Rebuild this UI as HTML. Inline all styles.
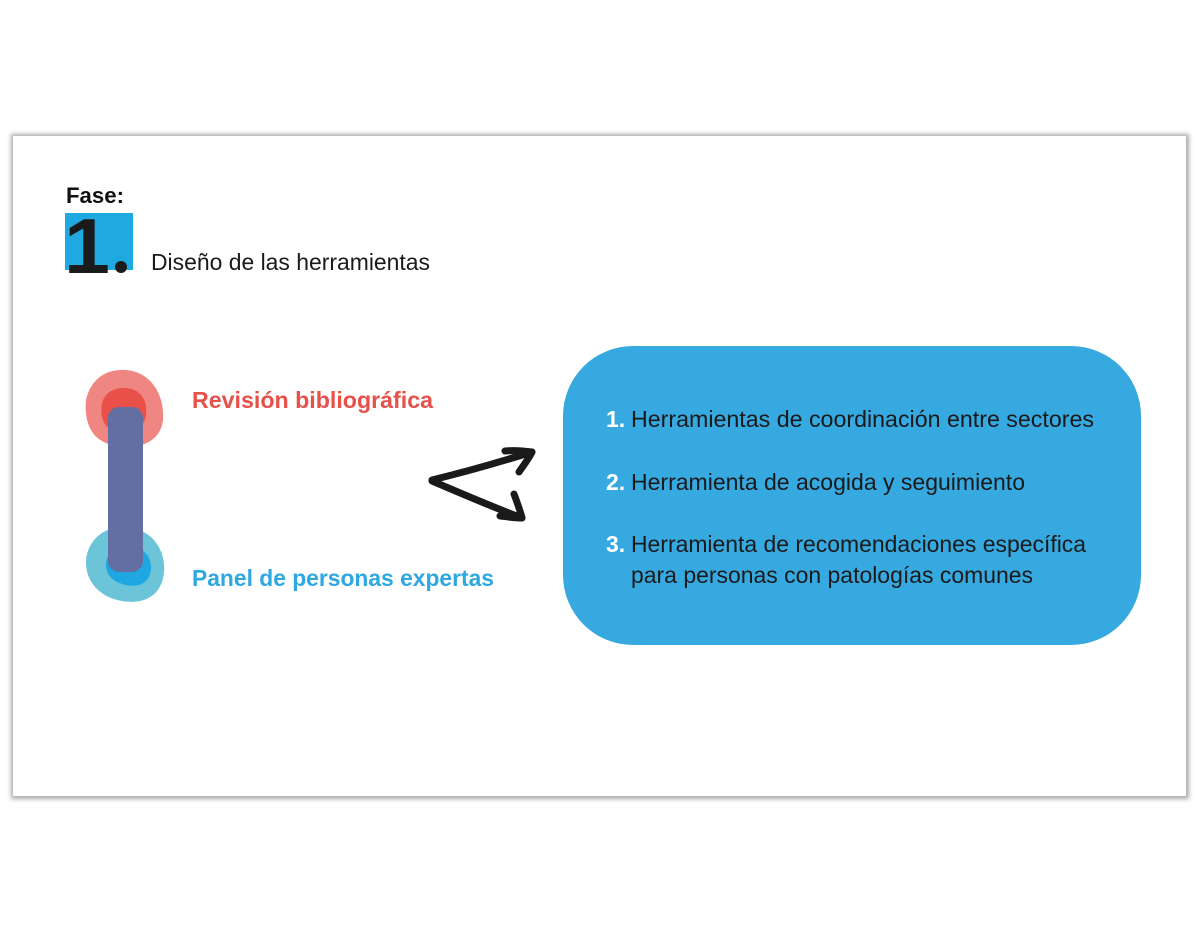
<!DOCTYPE html>
<html><head><meta charset="utf-8"><style>
html,body{margin:0;padding:0;background:#fff;width:1200px;height:930px;overflow:hidden}
</style></head><body>
<svg width="1200" height="930" viewBox="0 0 1200 930" xmlns="http://www.w3.org/2000/svg" font-family="Liberation Sans, sans-serif">
<defs>
<filter id="sh" x="-5%" y="-5%" width="110%" height="110%"><feGaussianBlur stdDeviation="2"/></filter>
</defs>
<rect x="11" y="134" width="1178" height="665" fill="#aaa" filter="url(#sh)"/>
<rect x="13" y="136" width="1173" height="660" fill="#fff"/>

<text x="66" y="203" font-size="22" font-weight="bold" fill="#111" textLength="58" lengthAdjust="spacingAndGlyphs">Fase:</text>
<rect x="65" y="213" width="68" height="57" fill="#1ea9e1"/>
<text x="64" y="273" font-size="78" fill="#1a1a1a" font-weight="bold" textLength="46" lengthAdjust="spacingAndGlyphs">1</text>
<circle cx="121" cy="267" r="6" fill="#1a1a1a"/>
<text x="151" y="270" font-size="23" fill="#1a1a1a" textLength="279" lengthAdjust="spacingAndGlyphs">Diseño de las herramientas</text>

<path d="M120 370 C150 368 165 395 163 420 C160 445 135 450 112 445 C90 440 84 420 86 400 C90 382 102 371 120 370 Z" fill="#f08681"/>
<path d="M122 388 C140 387 148 400 146 415 C144 430 130 436 116 432 C102 428 100 414 102 403 C105 393 112 389 122 388 Z" fill="#e9504a"/>
<path d="M125 527 C150 528 166 548 164 572 C162 595 145 605 122 601 C98 597 85 580 86 560 C88 540 104 526 125 527 Z" fill="#6cc4d8"/>
<path d="M128 546 C142 546 152 556 151 569 C150 582 140 588 126 585 C112 582 105 574 106 562 C108 551 116 546 128 546 Z" fill="#1fa7e1"/>
<rect x="108" y="407" width="35" height="165" rx="11" fill="#636fa2"/>

<text x="192" y="408" font-size="23" font-weight="bold" fill="#e8504a" textLength="241" lengthAdjust="spacingAndGlyphs">Revisión bibliográfica</text>
<text x="192" y="586" font-size="23" font-weight="bold" fill="#2ea8e0" textLength="302" lengthAdjust="spacingAndGlyphs">Panel de personas expertas</text>

<g fill="none" stroke="#1a1a1a" stroke-width="7" stroke-linecap="round" stroke-linejoin="round">
<path d="M432 480 C465 472 500 462 532 452"/>
<path d="M432 481 C465 495 495 508 522 518"/>
<path d="M505 451 C515 450 525 451 532 452 C528 460 523 466 519 472"/>
<path d="M514 494 C517 502 520 510 522 518 C515 518 508 517 500 516"/>
</g>

<rect x="563" y="346" width="578" height="299" rx="70" fill="#36a9e1"/>
<g font-size="23" fill="#1a1a1a">
<text x="606" y="427" font-weight="bold" fill="#fff">1.</text>
<text x="631" y="427" textLength="463" lengthAdjust="spacingAndGlyphs">Herramientas de coordinación entre sectores</text>
<text x="606" y="490" font-weight="bold" fill="#fff">2.</text>
<text x="631" y="490" textLength="394" lengthAdjust="spacingAndGlyphs">Herramienta de acogida y seguimiento</text>
<text x="606" y="552" font-weight="bold" fill="#fff">3.</text>
<text x="631" y="552" textLength="455" lengthAdjust="spacingAndGlyphs">Herramienta de recomendaciones específica</text>
<text x="631" y="583" textLength="402" lengthAdjust="spacingAndGlyphs">para personas con patologías comunes</text>
</g>
</svg>
</body></html>
